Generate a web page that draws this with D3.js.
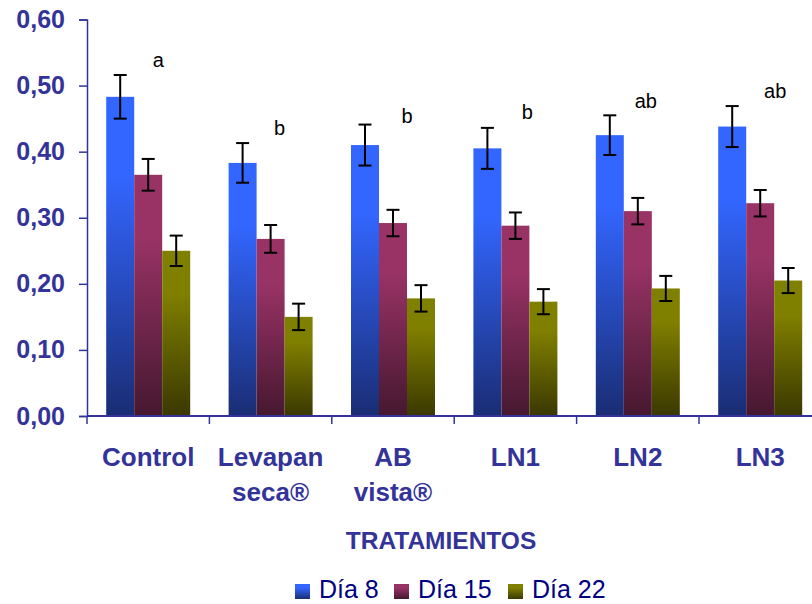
<!DOCTYPE html>
<html>
<head>
<meta charset="utf-8">
<script src="https://cdn.jsdelivr.net/npm/d3@7"></script>
<style>
  body { margin: 0; background: #fff; }
  svg { display: block; }
</style>
</head>
<body>
<div id="chart"></div>
<script>
const categories = [["Control"], ["Levapan", "seca®"], ["AB", "vista®"], ["LN1"], ["LN2"], ["LN3"]];
const seriesNames = ["Día 8", "Día 15", "Día 22"];
const dia8 = [0.483, 0.383, 0.410, 0.405, 0.425, 0.438];
const dia15 = [0.365, 0.268, 0.292, 0.288, 0.310, 0.322];
const dia22 = [0.250, 0.150, 0.178, 0.173, 0.193, 0.205];
const err8 = [0.033, 0.030, 0.031, 0.031, 0.030, 0.031];
const err15 = [0.024, 0.021, 0.020, 0.020, 0.020, 0.020];
const err22 = [0.023, 0.020, 0.020, 0.019, 0.019, 0.019];
const letters = ["a", "b", "b", "b", "ab", "ab"];
const letterY = [0.528, 0.425, 0.443, 0.449, 0.466, 0.481];
const letterDx = [10, 9, 14, 12, 8, 15];
const yTicks = [0, 0.1, 0.2, 0.3, 0.4, 0.5, 0.6];

const colors = [["#3366FF", "#1A2D74"], ["#993366", "#461830"], ["#808000", "#3A3800"]];
const AXIS = "#333399";

const W = 812, H = 604;
const svg = d3.select("#chart").append("svg")
  .attr("width", W)
  .attr("height", H);

// plot continues past the right edge in the original
const x0 = d3.scaleBand()
  .domain(d3.range(categories.length))
  .range([87, 87 + 6 * 122.4])
  .paddingInner(0)
  .paddingOuter(0);

const x1 = d3.scaleBand()
  .domain(d3.range(3))
  .range([19.2, 122.4 - 19.2]);

const y = d3.scaleLinear().domain([0, 0.6]).range([416, 19.5]);

let defs = svg.append("defs");
colors.forEach(function (c, i) {
  let g = defs.append("linearGradient")
    .attr("id", "grad" + i)
    .attr("x1", 0).attr("y1", 0).attr("x2", 0).attr("y2", 1);
  g.append("stop").attr("offset", "0%").attr("stop-color", c[0]);
  g.append("stop").attr("offset", "25%").attr("stop-color", c[0]);
  g.append("stop").attr("offset", "100%").attr("stop-color", c[1]);
});

const values = [dia8, dia15, dia22];
const errors = [err8, err15, err22];

let rows = [];
categories.forEach(function (c, i) {
  values.forEach(function (s, j) {
    rows.push({cat: i, ser: j, v: s[i], e: errors[j][i]});
  });
});

// bars
svg.append("g")
  .selectAll("rect")
  .data(rows)
  .enter()
  .append("rect")
  .attr("x", d => x0(d.cat) + x1(d.ser))
  .attr("y", d => y(d.v))
  .attr("width", x1.bandwidth())
  .attr("height", d => y(0) - y(d.v))
  .attr("fill", d => "url(#grad" + d.ser + ")");

// error bars
let eb = svg.append("g")
  .attr("stroke", "#000")
  .attr("stroke-width", 2)
  .selectAll("g")
  .data(rows)
  .enter()
  .append("g")
  .attr("transform", d => "translate(" + (x0(d.cat) + x1(d.ser) + x1.bandwidth() / 2) + ",0)");
eb.append("line")
  .attr("y1", d => y(d.v + d.e)).attr("y2", d => y(d.v - d.e));
eb.append("line")
  .attr("x1", -6.5).attr("x2", 6.5)
  .attr("y1", d => y(d.v + d.e)).attr("y2", d => y(d.v + d.e));
eb.append("line")
  .attr("x1", -6.5).attr("x2", 6.5)
  .attr("y1", d => y(d.v - d.e)).attr("y2", d => y(d.v - d.e));

// significance letters
svg.append("g")
  .selectAll("text")
  .data(letters)
  .enter()
  .append("text")
  .attr("x", (d, i) => x0(i) + x0.bandwidth() / 2 + letterDx[i])
  .attr("y", (d, i) => y(letterY[i]))
  .attr("text-anchor", "middle")
  .attr("font-family", "Arial, 'Liberation Sans', sans-serif")
  .attr("font-size", 20)
  .attr("fill", "#000")
  .text(d => d);

// y axis
let yAxis = svg.append("g")
  .attr("transform", "translate(87,0)")
  .call(d3.axisLeft(y).tickValues(yTicks).tickSize(8).tickPadding(14)
    .tickFormat(d => d3.format(".2f")(d).replace(".", ",")));
yAxis.select(".domain").attr("stroke", AXIS).attr("stroke-width", 1.5);
yAxis.selectAll(".tick line").attr("stroke", AXIS).attr("stroke-width", 1.5);
yAxis.selectAll(".tick text")
  .attr("fill", AXIS)
  .attr("font-family", "Arial, 'Liberation Sans', sans-serif")
  .attr("font-weight", "bold")
  .attr("font-size", 25);

// x axis
let xAxis = svg.append("g")
  .attr("transform", "translate(0,416)");
xAxis.append("line")
  .attr("x1", 87).attr("x2", W)
  .attr("stroke", AXIS).attr("stroke-width", 2);
xAxis.selectAll(".xt")
  .data(d3.range(categories.length + 1))
  .enter()
  .append("line")
  .attr("x1", d => 87 + d * x0.step()).attr("x2", d => 87 + d * x0.step())
  .attr("y1", 0).attr("y2", 8)
  .attr("stroke", AXIS).attr("stroke-width", 1.5);

let xl = svg.append("g")
  .selectAll("text")
  .data(categories)
  .enter()
  .append("text")
  .attr("x", (d, i) => x0(i) + x0.bandwidth() / 2)
  .attr("y", 466)
  .attr("text-anchor", "middle")
  .attr("font-family", "Arial, 'Liberation Sans', sans-serif")
  .attr("font-weight", "bold")
  .attr("font-size", 26)
  .attr("fill", AXIS);
xl.selectAll("tspan")
  .data(d => d)
  .enter()
  .append("tspan")
  .attr("x", function () { return d3.select(this.parentNode).attr("x"); })
  .attr("dy", (d, i) => i === 0 ? 0 : 35)
  .text(d => d);

svg.append("text")
  .attr("x", 441)
  .attr("y", 549)
  .attr("text-anchor", "middle")
  .attr("font-family", "Arial, 'Liberation Sans', sans-serif")
  .attr("font-weight", "bold")
  .attr("font-size", 24.5)
  .attr("fill", AXIS)
  .text("TRATAMIENTOS");

// legend
const legendX = [295, 394, 508];
let lg = svg.append("g")
  .selectAll("g")
  .data(seriesNames)
  .enter()
  .append("g")
  .attr("transform", (d, i) => "translate(" + legendX[i] + ",0)");
lg.append("rect")
  .attr("y", 584).attr("width", 15).attr("height", 15)
  .attr("fill", (d, i) => "url(#grad" + i + ")");
lg.append("text")
  .attr("x", 24).attr("y", 598)
  .attr("font-family", "Arial, 'Liberation Sans', sans-serif")
  .attr("font-size", 25)
  .attr("fill", "#000080")
  .text(d => d);
</script>
</body>
</html>
